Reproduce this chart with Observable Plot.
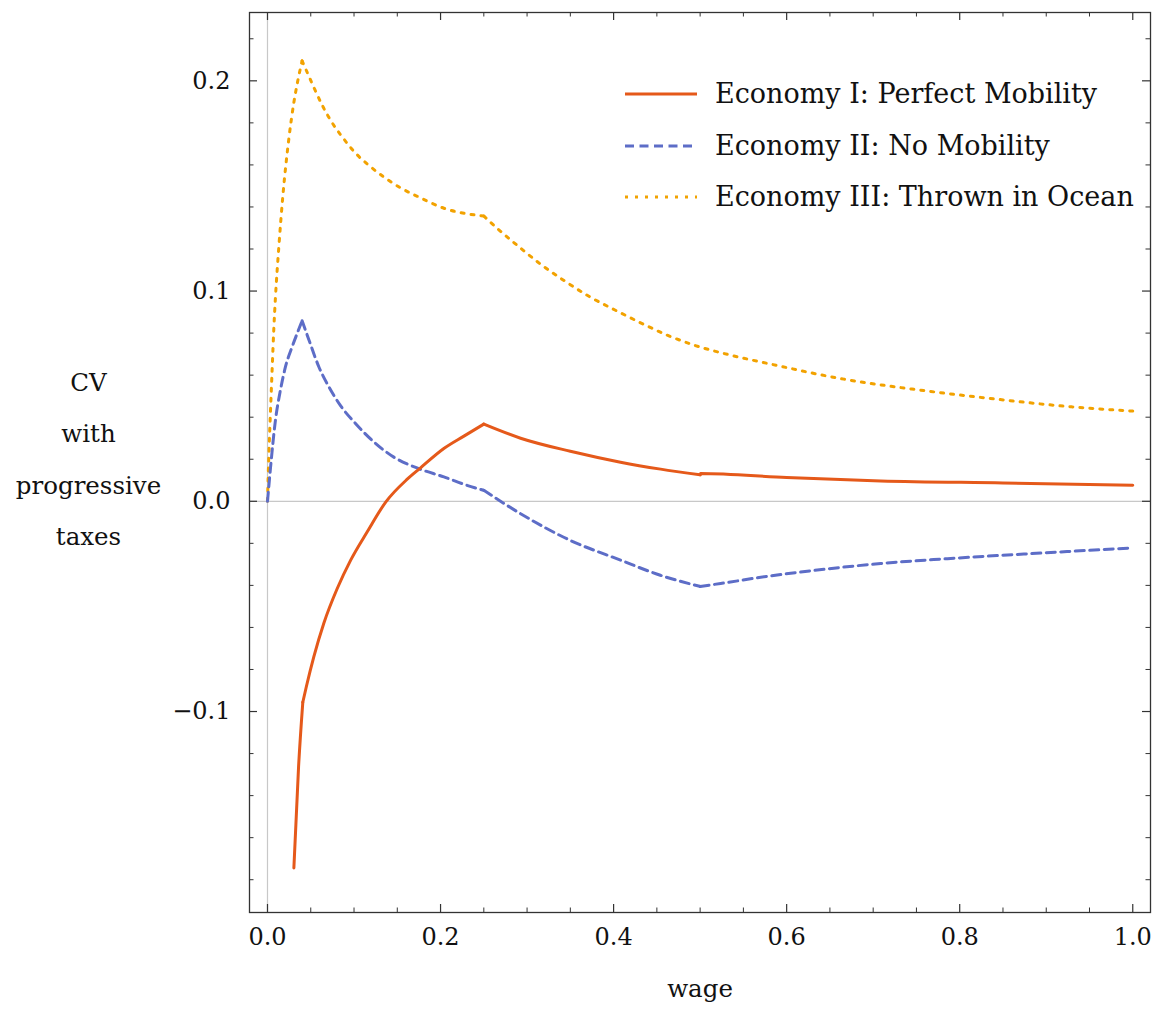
<!DOCTYPE html>
<html><head><meta charset="utf-8">
<script src="https://cdn.jsdelivr.net/npm/d3@7"></script>
<script src="https://cdn.jsdelivr.net/npm/@observablehq/plot@0.6"></script>
<style>
body{margin:0;background:#fff}
#wrap{position:relative;width:1157px;height:1009px}
#legend{position:absolute;left:0;top:0;pointer-events:none}
</style>
</head><body><div id="wrap"></div>
<script>
// ---- data ----
const seriesNames = ["Economy I: Perfect Mobility", "Economy II: No Mobility", "Economy III: Thrown in Ocean"];
const seriesColors = ["#E5591A", "#5D6DC7", "#F2A200"];
const seriesDash = [null, "9,5.5", "3,7"];

const econ1Wage = [0.0305, 0.0359, 0.0408, 0.045, 0.0535, 0.0651, 0.0806, 0.096, 0.1153, 0.1364, 0.1615, 0.1763, 0.2038, 0.227, 0.25, 0.2925, 0.35, 0.408, 0.4543, 0.5, 0.5005, 0.6, 0.7087, 0.85, 1.0];
const econ1CV   = [-0.1744, -0.1263, -0.0956, -0.0880, -0.0740, -0.0580, -0.0415, -0.0281, -0.0145, -0.0005, 0.0105, 0.0157, 0.0251, 0.0310, 0.0367, 0.0300, 0.0238, 0.0186, 0.0153, 0.0126, 0.0132, 0.0113, 0.0097, 0.0087, 0.0076];
const econ1Kinks = [0.0408, 0.25, 0.5];

const econ2Wage = [0, 0.0035, 0.0092, 0.015, 0.0208, 0.0285, 0.035, 0.040, 0.0477, 0.0593, 0.071, 0.0844, 0.1017, 0.123, 0.146, 0.1763, 0.2038, 0.2305, 0.25, 0.2925, 0.35, 0.408, 0.454, 0.5, 0.5237, 0.5776, 0.6315, 0.7087, 0.7858, 0.8824, 1.0];
const econ2CV   = [0, 0.016, 0.0386, 0.053, 0.064, 0.0735, 0.0806, 0.0859, 0.0770, 0.064, 0.0544, 0.0455, 0.037, 0.0282, 0.021, 0.0153, 0.0116, 0.0076, 0.0052, -0.0059, -0.0186, -0.028, -0.0352, -0.0405, -0.0391, -0.0357, -0.0329, -0.0296, -0.0273, -0.0249, -0.0222];
const econ2Kinks = [0.04, 0.25, 0.5];

const econ3Wage = [0, 0.0015, 0.0035, 0.0054, 0.0073, 0.0092, 0.0131, 0.0177, 0.0247, 0.0304, 0.035, 0.040, 0.0459, 0.0543, 0.064, 0.0748, 0.0875, 0.102, 0.118, 0.136, 0.1545, 0.174, 0.2038, 0.25, 0.2655, 0.2905, 0.3168, 0.3434, 0.3723, 0.4015, 0.4312, 0.462, 0.4928, 0.5353, 0.5777, 0.666, 0.7538, 0.842, 0.93, 1.0];
const econ3CV   = [0, 0.021, 0.0433, 0.063, 0.082, 0.097, 0.121, 0.145, 0.1725, 0.1895, 0.2, 0.2095, 0.2040, 0.1962, 0.1878, 0.180, 0.1727, 0.1655, 0.1595, 0.1538, 0.1489, 0.1449, 0.1394, 0.1357, 0.1298, 0.1211, 0.1124, 0.1048, 0.0973, 0.091, 0.0849, 0.079, 0.0743, 0.0695, 0.0656, 0.0581, 0.0529, 0.0486, 0.0449, 0.0429];
const econ3Kinks = [0.04, 0.25];

const xMajorTicks = [0, 0.2, 0.4, 0.6, 0.8, 1.0];
const xMinorTicks = [0.05, 0.1, 0.15, 0.25, 0.3, 0.35, 0.45, 0.5, 0.55, 0.65, 0.7, 0.75, 0.85, 0.9, 0.95];
const yMajorTicks = [-0.1, 0, 0.1, 0.2];
const yMinorTicks = [-0.18, -0.16, -0.14, -0.12, -0.08, -0.06, -0.04, -0.02, 0.02, 0.04, 0.06, 0.08, 0.12, 0.14, 0.16, 0.18, 0.22];
const yLabelText = "CV\nwith\nprogressive\ntaxes";
const xLabelText = "wage";

// ---- build ----
const W = 1157, H = 1009, mL = 249, mR = 7, mT = 12, mB = 97;
const fw = W - mL - mR, fh = H - mT - mB;
const font = "DejaVu Serif";
const fmt = d3.format(".1f");
// split each series into smooth pieces at its kinks (kink point shared by both pieces)
function toRows(ws, vs, kinks) {
  const out = [];
  let seg = 0;
  ws.forEach((w, i) => {
    out.push({wage: w, cv: vs[i], seg});
    if (kinks.some(k => Math.abs(k - w) < 1e-9)) {
      seg++;
      out.push({wage: w, cv: vs[i], seg});
    }
  });
  return out;
}
const rows = [
  toRows(econ1Wage, econ1CV, econ1Kinks),
  toRows(econ2Wage, econ2CV, econ2Kinks),
  toRows(econ3Wage, econ3CV, econ3Kinks)
];
const tickColor = "#333";
const curve = "monotone-x";

const plot = Plot.plot({
  width: W, height: H,
  marginLeft: mL, marginRight: mR, marginTop: mT, marginBottom: mB,
  style: {fontFamily: font, fontSize: "24px", color: "#111", background: "#fff"},
  x: {domain: [-0.0208, 1.0205]},
  y: {domain: [-0.1956, 0.2325]},
  marks: [
    Plot.ruleX([0], {x: d => d, stroke: "#c8c8c8", strokeWidth: 1.2}),
    Plot.ruleY([0], {y: d => d, stroke: "#c8c8c8", strokeWidth: 1.2}),
    Plot.line(rows[2], {x: "wage", y: "cv", z: "seg", curve, stroke: seriesColors[2], strokeWidth: 3, strokeDasharray: seriesDash[2]}),
    Plot.line(rows[1], {x: "wage", y: "cv", z: "seg", curve, stroke: seriesColors[1], strokeWidth: 3, strokeDasharray: seriesDash[1]}),
    Plot.line(rows[0], {x: "wage", y: "cv", z: "seg", curve, stroke: seriesColors[0], strokeWidth: 3}),
    Plot.frame({stroke: tickColor, strokeWidth: 1.3}),
    Plot.ruleX(xMajorTicks, {x: d => d, insetTop: fh - 8, stroke: tickColor, strokeWidth: 1.2}),
    Plot.ruleX(xMajorTicks, {x: d => d, insetBottom: fh - 8, stroke: tickColor, strokeWidth: 1.2}),
    Plot.ruleX(xMinorTicks, {x: d => d, insetTop: fh - 4.5, stroke: tickColor, strokeWidth: 1}),
    Plot.ruleX(xMinorTicks, {x: d => d, insetBottom: fh - 4.5, stroke: tickColor, strokeWidth: 1}),
    Plot.ruleY(yMajorTicks, {y: d => d, insetRight: fw - 8, stroke: tickColor, strokeWidth: 1.2}),
    Plot.ruleY(yMajorTicks, {y: d => d, insetLeft: fw - 8, stroke: tickColor, strokeWidth: 1.2}),
    Plot.ruleY(yMinorTicks, {y: d => d, insetRight: fw - 4.5, stroke: tickColor, strokeWidth: 1}),
    Plot.ruleY(yMinorTicks, {y: d => d, insetLeft: fw - 4.5, stroke: tickColor, strokeWidth: 1}),
    Plot.axisX(xMajorTicks, {tickSize: 0, tickPadding: 15, tickFormat: fmt, label: null, fontSize: 24}),
    Plot.axisY(yMajorTicks, {tickSize: 0, tickPadding: 19, tickFormat: fmt, label: null, fontSize: 24}),
    Plot.text([yLabelText], {text: d => d, frameAnchor: "left", dx: -161, dy: -11, lineHeight: 2.1, fontSize: 24.5, textAnchor: "middle", fill: "#111"}),
    Plot.text([xLabelText], {text: d => d, frameAnchor: "bottom", dy: 84, fontSize: 24.5, fill: "#111"})
  ]
});
const wrap = document.getElementById("wrap");
wrap.appendChild(plot);

// ---- legend overlay ----
const leg = d3.select(wrap).append("svg").attr("id", "legend").attr("width", W).attr("height", 260);
const rowY = [94, 146, 197];
seriesNames.forEach((name, i) => {
  const g = leg.append("g").attr("transform", `translate(0,${rowY[i]})`);
  g.append("line").attr("x1", 625).attr("x2", 697).attr("y1", 0).attr("y2", 0)
    .attr("stroke", seriesColors[i]).attr("stroke-width", 3)
    .attr("stroke-dasharray", seriesDash[i]);
  g.append("text").attr("x", 715).attr("y", 0).attr("dy", "0.35em")
    .attr("font-family", font).attr("font-size", 27).attr("fill", "#111").text(name);
});
</script>
</body></html>
